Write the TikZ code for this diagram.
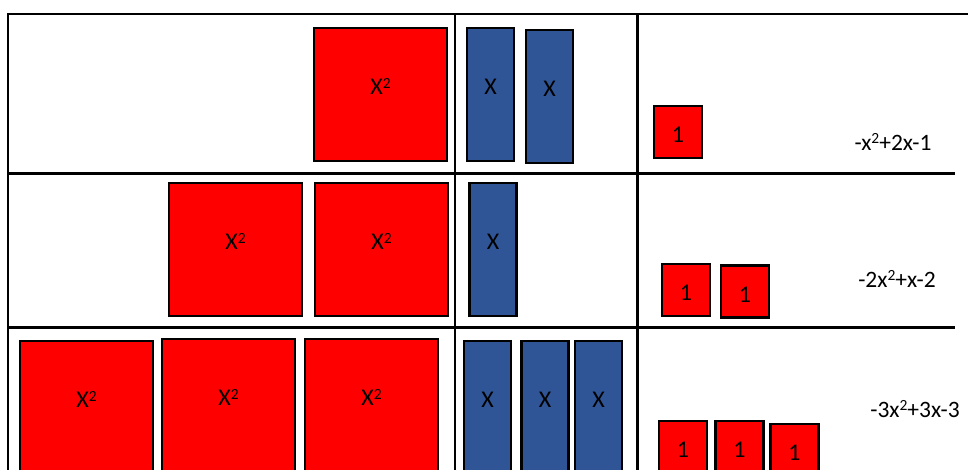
\documentclass[tikz,border=0pt]{standalone}
\usepackage{fontspec}
\setmainfont{Carlito}
\definecolor{tilered}{RGB}{255,0,0}
\definecolor{tileblue}{RGB}{47,85,151}
\newcommand{\sqr}{\raisebox{6.5pt}{\fontsize{15.5}{16}\selectfont 2}}
\tikzset{
  x=1pt, y=-1pt,
  tile/.style={draw=black, line width=2.6pt, inner sep=0pt, outer sep=0pt},
  sqtile/.style={tile, fill=tilered, minimum width=133pt, minimum height=133pt},
  xtile/.style={tile, fill=tileblue, minimum width=47pt, minimum height=133pt},
  unittile/.style={tile, fill=tilered, minimum width=48pt, minimum height=52pt},
  lbl/.style={font=\fontsize{24}{26}\selectfont, text=black, inner sep=0pt},
  expr/.style={font=\fontsize{23.5}{26}\selectfont, text=black, inner sep=0pt},
  gridline/.style={line width=2.4pt, black},
}
\newcommand{\sqlab}[1]{\path (#1.center) ++(0,-8) node[lbl] {X\sqr};}
\newcommand{\xlab}[1]{\path (#1.center) ++(0,-8) node[lbl] {X};}
\newcommand{\unitlab}[1]{\path (#1.center) ++(0,3) node[lbl] {1};}
\begin{document}
\begin{tikzpicture}
\useasboundingbox (0,0) rectangle (968,470);
\fill[white] (0,0) rectangle (968,470);
\begin{scope}
\clip (0,0) rectangle (968,470);
% table lines
\draw[gridline] (8,470) -- (8,14) -- (968,14);
\draw[gridline] (455,14) -- (455,470);
\draw[gridline] (637.5,14) -- (637.5,470);
\draw[gridline, line width=3pt] (8,174) -- (955,174);
\draw[gridline, line width=3pt] (8,327) -- (955,327);
% row 1
\node[sqtile] (r1s1) at (380.5,94.5) {}; \sqlab{r1s1}
\node[xtile] (r1x1) at (490.5,94.5) {}; \xlab{r1x1}
\node[xtile] (r1x2) at (549.5,96.5) {}; \xlab{r1x2}
\node[unittile] (r1u1) at (678,132) {}; \unitlab{r1u1}
\node[expr] (e1) at (893,142) {-x\sqr+2x-1};
% row 2
\node[sqtile] (r2s1) at (235.5,249.5) {}; \sqlab{r2s1}
\node[sqtile] (r2s2) at (381.5,249.5) {}; \sqlab{r2s2}
\node[xtile] (r2x1) at (493,249.5) {}; \xlab{r2x1}
\node[unittile] (r2u1) at (686,290) {}; \unitlab{r2u1}
\node[unittile] (r2u2) at (745,291.5) {}; \unitlab{r2u2}
\node[expr] (e2) at (897,279) {-2x\sqr+x-2};
% row 3
\node[sqtile] (r3s1) at (86.5,407.5) {}; \sqlab{r3s1}
\node[sqtile] (r3s2) at (228.5,405.5) {}; \sqlab{r3s2}
\node[sqtile] (r3s3) at (371.5,405.5) {}; \sqlab{r3s3}
\node[xtile] (r3x1) at (487.5,407.5) {}; \xlab{r3x1}
\node[xtile] (r3x2) at (545,407.5) {}; \xlab{r3x2}
\node[xtile] (r3x3) at (598.5,407.5) {}; \xlab{r3x3}
\node[unittile] (r3u1) at (683,447) {}; \unitlab{r3u1}
\node[unittile] (r3u2) at (739.5,447) {}; \unitlab{r3u2}
\node[unittile] (r3u3) at (794.5,450) {}; \unitlab{r3u3}
\node[expr] (e3) at (915,409) {-3x\sqr+3x-3};
\end{scope}
\end{tikzpicture}
\end{document}
